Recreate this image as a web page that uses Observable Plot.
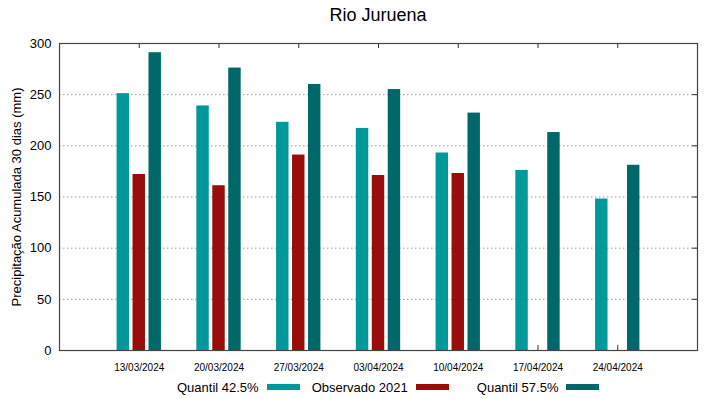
<!DOCTYPE html>
<html>
<head>
<meta charset="utf-8">
<script src="https://cdn.jsdelivr.net/npm/d3@7"></script>
<script src="https://cdn.jsdelivr.net/npm/@observablehq/plot@0.6"></script>
<style>
  body { margin: 0; background: #fff; font-family: "Liberation Sans", Arial, sans-serif; }
  #wrap { width: 719px; height: 399px; overflow: hidden; }
  #title { height: 30px; line-height: 30px; font-size: 18px; margin-left: 59px; width: 638px; text-align: center; color: #000; }
  #legend { height: 24px; display: flex; align-items: center; font-size: 13px; color: #000; padding-left: 177px; }
  #legend .sw { display: inline-block; width: 33px; height: 6px; margin-left: 8px; }
</style>
</head>
<body>
<div id="wrap">
  <div id="title">Rio Juruena</div>
  <div id="chart"></div>
  <div id="legend"></div>
</div>
<script>
const dates = ["13/03/2024", "20/03/2024", "27/03/2024", "03/04/2024", "10/04/2024", "17/04/2024", "24/04/2024"];
const seriesNames = ["Quantil 42.5%", "Observado 2021", "Quantil 57.5%"];
const seriesColors = ["#00999a", "#990d0d", "#006868"];
const q425 = [251, 239, 223, 217, 193, 176, 148];
const obs2021 = [172, 161, 191, 171, 173, null, null];
const q575 = [291, 276, 260, 255, 232, 213, 181];
const yTicks = [0, 50, 100, 150, 200, 250, 300];
const gridTicks = [50, 100, 150, 200, 250];

const seriesValues = [q425, obs2021, q575];
const positions = dates.map((d, i) => i + 1);
const offsets = [-0.2, 0, 0.2];
const halfW = 0.078;

const rows = [];
seriesValues.forEach((vals, s) => {
  vals.forEach((v, i) => {
    if (v != null) rows.push({pos: i + 1, s, value: v, color: seriesColors[s]});
  });
});

const frameH = 345 - 13 - 25;
const frameW = 719 - 59 - 22;

const chart = Plot.plot({
  width: 719,
  height: 345,
  marginTop: 13,
  marginBottom: 25,
  marginLeft: 59,
  marginRight: 22,
  style: {fontFamily: "'Liberation Sans', Arial, sans-serif", fontSize: "13px", color: "#000", background: "white", overflow: "visible"},
  x: {type: "linear", domain: [0, 8], axis: null},
  y: {domain: [0, 300], axis: null},
  marks: [
    Plot.ruleY(gridTicks, {stroke: "#999", strokeDasharray: "1.5,2.5", strokeWidth: 1}),
    Plot.tickX(positions, {x: d => d, insetBottom: frameH - 5, stroke: "#333"}),
    Plot.tickX(positions, {x: d => d, insetTop: frameH - 5, stroke: "#333"}),
    Plot.tickY(yTicks, {y: d => d, insetLeft: frameW - 5, stroke: "#333"}),
    Plot.axisY({ticks: yTicks, tickSize: 0, tickPadding: 8, fontSize: 13, label: "Precipitação Acumulada 30 dias (mm)", labelAnchor: "center", labelArrow: "none", labelOffset: 48}),
    Plot.axisX({ticks: positions, tickSize: 0, tickPadding: 13, fontSize: 10, tickFormat: d => dates[d - 1], label: null}),
    Plot.rect(rows, {
      x1: d => d.pos + offsets[d.s] - halfW,
      x2: d => d.pos + offsets[d.s] + halfW,
      y1: 0,
      y2: "value",
      fill: "color"
    }),
    Plot.frame({stroke: "#444", strokeWidth: 1.2})
  ]
});
document.getElementById("chart").appendChild(chart);

const legend = document.getElementById("legend");
const gaps = [0, 12, 28];
seriesNames.forEach((name, i) => {
  const t = document.createElement("span");
  t.textContent = name;
  t.style.marginLeft = gaps[i] + "px";
  const sw = document.createElement("span");
  sw.className = "sw";
  sw.style.background = seriesColors[i];
  legend.appendChild(t);
  legend.appendChild(sw);
});
</script>
</body>
</html>
